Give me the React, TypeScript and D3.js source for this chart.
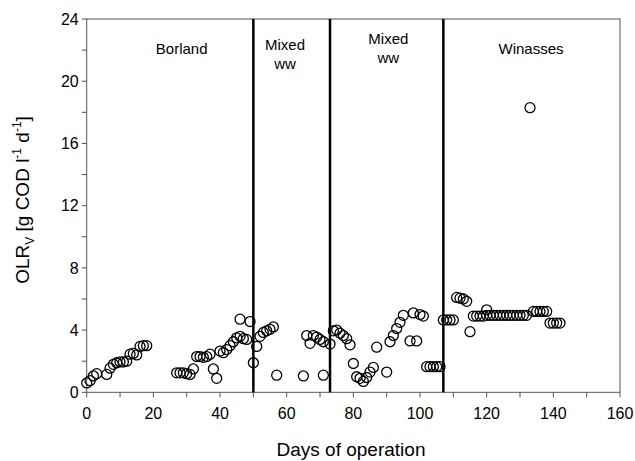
import React from "react";
import * as d3 from "d3";

const borlandDays = [0, 1, 2, 3, 6, 7, 8, 9, 10, 11, 12, 13, 14, 15, 16, 17, 18];
const borlandOLR = [0.6, 0.75, 1.05, 1.2, 1.15, 1.55, 1.8, 1.9, 1.95, 1.95, 2.0, 2.45, 2.5, 2.4, 2.95, 3.0, 3.0];

const seg2Days = [27, 28, 29, 30, 31, 32, 33, 34, 35, 36, 37, 38, 39, 40, 41, 42, 43, 44, 45, 46, 47, 48, 46, 49];
const seg2OLR = [1.25, 1.25, 1.25, 1.2, 1.15, 1.5, 2.3, 2.3, 2.25, 2.3, 2.45, 1.5, 0.9, 2.65, 2.55, 2.75, 3.0, 3.25, 3.5, 3.6, 3.45, 3.4, 4.7, 4.55];

const mixed1Days = [50, 51, 52, 53, 54, 55, 56, 57, 65, 66, 67, 68, 69, 70, 71, 71, 73];
const mixed1OLR = [1.9, 2.95, 3.6, 3.85, 3.95, 4.05, 4.2, 1.1, 1.05, 3.65, 3.15, 3.65, 3.55, 3.4, 3.25, 1.1, 3.1];

const mixed2Days = [74, 75, 76, 77, 78, 79, 80, 81, 82, 83, 84, 85, 86, 87, 90, 91, 92, 93, 94, 95, 97, 98, 99, 100, 101, 102, 103, 104, 105, 106];
const mixed2OLR = [3.95, 4.0, 3.8, 3.65, 3.45, 3.05, 1.85, 1.0, 0.9, 0.7, 0.95, 1.3, 1.6, 2.9, 1.3, 3.25, 3.65, 4.1, 4.5, 4.95, 3.3, 5.1, 3.3, 5.0, 4.9, 1.65, 1.65, 1.65, 1.65, 1.65];

const winDays = [107, 108, 109, 110, 111, 112, 113, 114, 115, 116, 117, 118, 119, 120, 120, 121, 122, 123, 124, 125, 126, 127, 128, 129, 130, 131, 132, 133, 134, 135, 136, 137, 138, 139, 140, 141, 142];
const winOLR = [4.65, 4.65, 4.65, 4.65, 6.1, 6.05, 6.0, 5.85, 3.9, 4.9, 4.9, 4.9, 4.9, 5.3, 4.95, 4.95, 4.95, 4.95, 4.95, 4.95, 4.95, 4.95, 4.95, 4.95, 4.95, 4.95, 4.95, 18.3, 5.2, 5.2, 5.2, 5.2, 5.2, 4.45, 4.45, 4.45, 4.45];

const phaseBoundaries = [50, 73, 107];
const phaseLabels = [
  { day: 28.5, lines: ["Borland"], top: 0 },
  { day: 59.5, lines: ["Mixed", "ww"], top: -4 },
  { day: 90.5, lines: ["Mixed", "ww"], top: -10 },
  { day: 133.3, lines: ["Winasses"], top: 0 },
];

const xMajor = [0, 20, 40, 60, 80, 100, 120, 140, 160];
const yMajor = [0, 4, 8, 12, 16, 20, 24];

export default function App() {
  const W = 635, H = 461;
  const left = 86.7, right = 620, top = 19, bottom = 392.3;
  const x = d3.scaleLinear().domain([0, 160]).range([left, right]);
  const y = d3.scaleLinear().domain([0, 24]).range([bottom, top]);

  const pts: [number, number][] = [];
  const add = (ds: number[], vs: number[]) => ds.forEach((d, i) => pts.push([d, vs[i]]));
  add(borlandDays, borlandOLR);
  add(seg2Days, seg2OLR);
  add(mixed1Days, mixed1OLR);
  add(mixed2Days, mixed2OLR);
  add(winDays, winOLR);

  const xMinor = d3.range(0, 161, 10);
  const yMinor = d3.range(0, 25, 2);
  const axisColor = "#555";
  const font = "Liberation Sans, Arial, sans-serif";

  return (
    <svg width={W} height={H} style={{ position: "absolute", left: 0, top: 0, background: "#fff" }} fontFamily={font}>
      <rect x={left} y={top} width={right - left} height={bottom - top} fill="none" stroke={axisColor} strokeWidth={1} />
      {yMinor.map((v) => (
        <line key={"ym" + v} x1={left - 5} x2={left} y1={y(v)} y2={y(v)} stroke={axisColor} />
      ))}
      {yMajor.map((v) => (
        <text key={"yt" + v} x={left - 8} y={y(v)} dy="0.36em" textAnchor="end" fontSize={16} fill="#000">{v}</text>
      ))}
      {xMinor.map((v) => (
        <line key={"xm" + v} x1={x(v)} x2={x(v)} y1={bottom} y2={bottom + 5} stroke={axisColor} />
      ))}
      {xMajor.map((v) => (
        <text key={"xt" + v} x={x(v)} y={bottom + 27} textAnchor="middle" fontSize={16} fill="#000">{v}</text>
      ))}
      {phaseBoundaries.map((d) => (
        <line key={"pb" + d} x1={x(d)} x2={x(d)} y1={y(0)} y2={y(24)} stroke="#000" strokeWidth={2.5} />
      ))}
      {phaseLabels.map((p, i) => (
        <text key={"pl" + i} x={x(p.day)} y={54 + p.top} textAnchor="middle" fontSize={15} fill="#000">
          {p.lines.map((l, j) => (
            <tspan key={j} x={x(p.day)} dy={j === 0 ? 0 : 19}>{l}</tspan>
          ))}
        </text>
      ))}
      {pts.map(([d, v], i) => (
        <circle key={"p" + i} cx={x(d)} cy={y(v)} r={5} fill="none" stroke="#000" strokeWidth={1.3} />
      ))}
      <text x={351} y={456} textAnchor="middle" fontSize={19} fill="#000">Days of operation</text>
      <text transform={`translate(29, 200) rotate(-90)`} textAnchor="middle" fontSize={19} fill="#000">
        OLR<tspan fontSize={12} dy={5}>V</tspan>
        <tspan dy={-5}> [g COD l</tspan>
        <tspan fontSize={12} dy={-8}>-1</tspan>
        <tspan dy={8}> d</tspan>
        <tspan fontSize={12} dy={-8}>-1</tspan>
        <tspan dy={8}>]</tspan>
      </text>
    </svg>
  );
}
